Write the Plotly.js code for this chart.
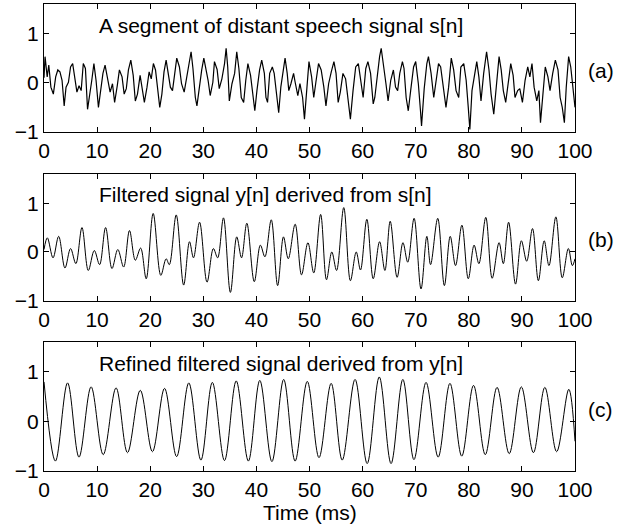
<!DOCTYPE html>
<html>
<head>
<meta charset="utf-8">
<script src="https://cdn.plot.ly/plotly-3.0.1.min.js"></script>
<style>html,body{margin:0;padding:0;background:#fff;}#chart{width:621px;height:525px;}</style>
</head>
<body>
<div id="chart"></div>
<script>
// ---- Data ----
// Panel (a): distant speech signal s[n]
const timeA = [0, 0.2, 0.6, 0.9, 1.3, 1.76, 2.2, 2.6, 3.0, 3.4, 3.8, 4.15, 4.6, 5.0, 5.4, 5.8, 6.2, 6.6, 7.0, 7.4, 7.8, 8.2, 8.55, 9.0, 9.4, 9.8, 10.25, 10.7, 11.1, 11.5, 11.95, 12.45, 12.9, 13.3, 13.8, 14.2, 14.7, 15.1, 15.5, 15.9, 16.35, 16.8, 17.2, 17.6, 18.1, 18.5, 18.9, 19.4, 19.8, 20.2, 20.6, 21.0, 21.4, 21.8, 22.2, 22.6, 23.0, 23.4, 23.8, 24.2, 24.6, 25.0, 25.5, 25.9, 26.4, 26.9, 27.3, 27.7, 28.05, 28.5, 28.8, 29.2, 29.7, 30.1, 30.5, 30.9, 31.3, 31.8,
  32.1, 32.6, 33.0, 33.5, 34.0, 34.3, 34.6, 34.9, 35.4, 35.9, 36.3, 36.7, 37.15, 37.6, 38.0, 38.4, 38.9, 39.2, 39.7, 40.1, 40.6, 41.0, 41.5, 41.8, 42.1, 42.5, 43.0, 43.35, 43.9, 44.2, 44.6, 45.1, 45.4, 45.8, 46.1, 46.5, 47.0, 47.3, 47.8, 48.2, 48.7, 49.05, 49.5, 49.9, 50.4, 50.8, 51.2, 51.7, 52.2, 52.7, 53.1, 53.6, 54.1, 54.6, 55.0, 55.4, 55.8, 56.3, 56.8, 57.2, 57.7, 58.2, 58.7, 59.2, 59.6, 60.1, 60.6, 61.0, 61.5, 62.0, 62.3, 62.8, 63.2, 63.5, 63.9, 64.4, 64.8, 65.3, 65.8,
  66.2, 66.6, 67.0, 67.5, 67.8, 68.2, 68.6, 69.05, 69.6, 70.0, 70.5, 70.9, 71.1, 71.6, 72.1, 72.4, 72.9, 73.4, 73.8, 74.3, 74.7, 75.25, 75.7, 76.2, 76.7, 77.15, 77.6, 78.1, 78.5, 79.05, 79.5, 79.9, 80.2, 80.6, 81.1, 81.5, 81.9, 82.3, 82.8, 83.35, 83.8, 84.2, 84.7, 85.2, 85.7, 86.1, 86.5, 86.95, 87.5, 87.9, 88.35, 88.7, 89.2, 89.6, 90.1, 90.6, 91.1, 91.5, 91.9, 92.3, 92.8, 93.2, 93.5, 93.9, 94.4, 94.9, 95.3, 95.8, 96.3, 96.8, 97.2, 97.6, 98.0, 98.35, 98.8, 99.2, 99.5, 99.9, 100];
const signalA = [0.1, 0.53, 0.12, 0.36, -0.09, -0.23, 0.12, 0.26, 0.22, 0.05, -0.47, -0.09, 0.01, 0.32, 0.39, 0.12, -0.19, -0.06, -0.16, 0.39, 0.29, -0.54, -0.30, 0.05, 0.39, 0.05, -0.50, -0.09, 0.19, 0.36, 0.12, -0.19, -0.02, -0.40, -0.06, 0.26, 0.12, -0.23, -0.12, 0.26, 0.46, 0.15, -0.37, -0.23, 0.15, -0.12, -0.40, -0.09, 0.22, 0.08, 0.39, 0.26, -0.16, -0.50, -0.23, 0.22, 0.46, 0.19, -0.09, -0.16, 0.19, 0.50, 0.32, -0.02, -0.19, 0.12, 0.39, 0.63, 0.29, -0.30, -0.47, -0.09, 0.26, 0.50, 0.29, 0.05, -0.26, 0.01,
  0.43, 0.27, -0.12, 0.08, 0.39, 0.70, 0.32, -0.37, -0.02, 0.19, 0.63, 0.29, -0.30, -0.40, 0.05, 0.39, 0.15, -0.16, -0.57, -0.16, 0.26, 0.46, 0.19, -0.30, -0.40, 0.19, 0.32, 0.19, -0.37, -0.61, -0.09, 0.32, 0.50, 0.19, -0.16, -0.02, 0.19, 0.01, -0.26, -0.02, -0.30, -0.74, -0.16, 0.43, 0.12, -0.30, 0.01, 0.39, 0.26, -0.09, -0.47, -0.02, 0.22, 0.43, 0.19, -0.40, -0.19, 0.19, 0.08, -0.30, -0.74, -0.16, 0.32, 0.39, 0.05, -0.30, 0.29, 0.43, 0.19, -0.43, -0.30, 0.19, 0.53, 0.70, 0.32, -0.02, -0.37, 0.05, 0.26,
  -0.09, -0.16, 0.19, 0.43, 0.29, -0.30, -0.57, -0.16, 0.32, 0.43, -0.02, -0.57, -0.88, -0.12, 0.39, 0.53, 0.19, -0.30, -0.02, 0.39, 0.32, -0.12, -0.50, -0.09, 0.50, 0.26, -0.16, -0.30, 0.32, 0.39, 0.05, -0.50, -0.95, -0.16, 0.19, 0.43, 0.12, -0.37, 0.19, 0.63, 0.26, -0.23, -0.64, -0.02, 0.53, 0.26, -0.16, -0.40, 0.05, 0.39, 0.15, -0.30, -0.16, -0.12, -0.40, 0.05, 0.32, 0.12, 0.39, -0.09, -0.37, -0.16, -0.81, -0.23, 0.32, 0.12, -0.16, 0.19, 0.46, 0.26, -0.30, -0.50, -0.81, -0.09, 0.53, 0.32, 0.05, -0.43, -0.50];

// Panel (b): filtered signal y[n] (extrema)
const timeB = [0, 0.63, 1.7, 2.76, 3.95, 5.0, 6.0, 7.15, 8.34, 9.47, 10.47, 11.6, 12.8, 13.9, 15.0, 16.1, 17.2, 18.2, 19.25, 20.56, 22.0, 23.0, 23.6, 24.9, 26.3, 27.4, 28.15, 29.3, 30.7, 31.9, 32.7, 33.8, 35.1, 36.3, 37.2, 38.2, 39.6, 40.75, 41.6, 42.8, 44.0, 45.1, 46.0, 47.3, 48.5, 49.7, 50.8, 52.1, 53.2, 54.2, 55.1, 56.45, 57.7, 58.8, 59.6, 60.8, 62.0, 63.2, 64.2, 65.2, 66.5, 67.6, 68.5, 69.7, 71.0, 72.1, 72.8, 74.15, 75.4, 76.5, 77.5, 78.7, 79.9, 81.0, 81.9, 83.2, 84.4, 85.7, 86.5, 87.5, 88.8, 89.9, 90.9, 92.0, 93.1, 94.2, 95.1, 96.4, 97.6, 98.75, 99.5, 100];
const signalB = [0.05, 0.29, -0.12, 0.32, -0.33, 0.07, -0.24, 0.50, -0.38, 0.03, -0.26, 0.50, -0.34, 0.05, -0.31, 0.44, -0.17, 0.08, -0.55, 0.79, -0.48, -0.14, -0.26, 0.76, -0.68, 0.21, -0.12, 0.61, -0.62, 0.07, -0.12, 0.70, -0.83, 0.31, -0.12, 0.59, -0.61, 0.14, -0.10, 0.66, -0.69, 0.31, -0.14, 0.57, -0.47, 0.19, -0.43, 0.77, -0.57, 0.0, -0.38, 0.91, -0.59, 0.0, -0.37, 0.67, -0.55, 0.21, -0.38, 0.63, -0.52, 0.19, -0.21, 0.69, -0.76, 0.32, -0.26, 0.69, -0.69, 0.32, -0.28, 0.55, -0.55, 0.14, -0.24, 0.71, -0.54, 0.19, -0.24, 0.61, -0.66, 0.23, -0.19, 0.48, -0.59, 0.23, -0.28, 0.72, -0.53, 0.07, -0.28, -0.14];

// Panel (c): refined filtered signal (extrema)
const timeC = [0, 2.15, 4.44, 6.59, 8.87, 11.15, 13.57, 15.72, 18.13, 20.42, 22.7, 24.98, 27.27, 29.55, 31.7, 33.99, 36.2, 38.49, 40.64, 42.92, 45.14, 47.29, 49.58, 51.79, 54.08, 56.16, 58.58, 60.86, 63.14, 65.36, 67.58, 69.67, 71.95, 74.23, 76.45, 78.67, 80.89, 83.1, 85.32, 87.61, 89.89, 92.17, 94.32, 96.54, 98.83, 100];
const signalC = [0.80, -0.80, 0.78, -0.72, 0.70, -0.67, 0.68, -0.63, 0.63, -0.61, 0.67, -0.71, 0.78, -0.78, 0.79, -0.79, 0.82, -0.80, 0.83, -0.81, 0.85, -0.80, 0.81, -0.73, 0.77, -0.78, 0.85, -0.85, 0.90, -0.85, 0.85, -0.77, 0.79, -0.72, 0.77, -0.70, 0.73, -0.67, 0.69, -0.65, 0.70, -0.63, 0.69, -0.61, 0.65, -0.40];

const panelTitles = ["A segment of distant speech signal s[n]", "Filtered signal y[n] derived from s[n]", "Refined filtered signal derived from y[n]"];
const panelTags = ["(a)", "(b)", "(c)"];
const xTickVals = [0, 10, 20, 30, 40, 50, 60, 70, 80, 90, 100];
const yTickVals = [-1, 0, 1];
const xLabel = "Time (ms)";

// ---- Plot ----
const FONT = "Liberation Sans, Arial, Helvetica, sans-serif";
const FS = 21;
const traces = [
  {x: timeA, y: signalA, xaxis: "x", yaxis: "y", mode: "lines", line: {color: "#000", width: 1.2}},
  {x: timeB, y: signalB, xaxis: "x2", yaxis: "y2", mode: "lines", line: {color: "#000", width: 1, shape: "spline", smoothing: 1}},
  {x: timeC, y: signalC, xaxis: "x3", yaxis: "y3", mode: "lines", line: {color: "#000", width: 1, shape: "spline", smoothing: 1}}
];

function xax(anchor) {
  return {
    anchor: anchor, domain: [0, 1], range: [0, 100], tickvals: xTickVals,
    ticks: "inside", ticklen: 5, tickcolor: "#000", showline: true, linecolor: "#000", linewidth: 1,
    mirror: "ticks", showgrid: false, zeroline: false, tickfont: {family: FONT, size: FS, color: "#000"}
  };
}
function yax(anchor, dom) {
  return {
    anchor: anchor, domain: dom, range: [-1, 1.6], tickvals: yTickVals,
    ticks: "inside", ticklen: 5, tickcolor: "#000", showline: true, linecolor: "#000", linewidth: 1,
    mirror: "ticks", showgrid: false, zeroline: false, tickfont: {family: FONT, size: FS, color: "#000"}
  };
}
const refs = [["x", "y"], ["x2", "y2"], ["x3", "y3"]];
const annotations = [];
for (let i = 0; i < 3; i++) {
  annotations.push({xref: refs[i][0], yref: refs[i][1], x: 10, y: 1.17, xanchor: "left", yanchor: "middle",
    text: panelTitles[i], showarrow: false, font: {family: FONT, size: FS, color: "#000"}});
  annotations.push({xref: "paper", yref: refs[i][1], x: 1.02, y: 0.25, xanchor: "left", yanchor: "middle",
    text: panelTags[i], showarrow: false, font: {family: FONT, size: FS, color: "#000"}});
}
// x-axis label of the bottom panel
annotations.push({xref: "paper", yref: "paper", x: 0.5, y: -0.089, xanchor: "center", yanchor: "middle",
  text: xLabel, showarrow: false, font: {family: FONT, size: FS, color: "#000"}});

const layout = {
  width: 621, height: 525, margin: {l: 44, r: 46, t: 4, b: 54},
  paper_bgcolor: "#fff", plot_bgcolor: "#fff", showlegend: false,
  font: {family: FONT, size: FS, color: "#000"},
  xaxis: xax("y"), yaxis: yax("x", [0.726, 1]),
  xaxis2: xax("y2"), yaxis2: yax("x2", [0.3647, 0.636]),
  xaxis3: xax("y3"), yaxis3: yax("x3", [0, 0.2756]),
  annotations: annotations
};
Plotly.newPlot("chart", traces, layout, {displayModeBar: false, staticPlot: true});
</script>
</body>
</html>
